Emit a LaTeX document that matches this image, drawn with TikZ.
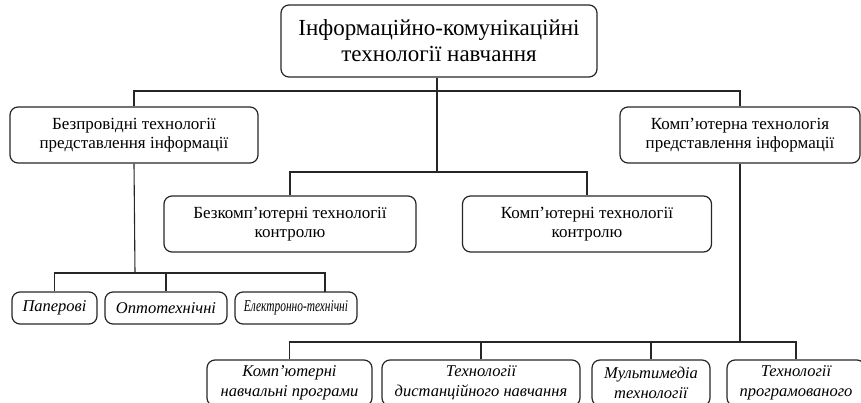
\documentclass[tikz,border=0pt]{standalone}
\usepackage{fontspec}
\usepackage{graphicx}
\setmainfont{Liberation Serif}
\begin{document}
\begin{tikzpicture}[x=1pt,y=-1pt,
  box/.style={draw=black!85, line width=1.2pt, rounded corners=8pt, align=center, inner sep=0pt, text=black},
  big/.style={box, font=\fontsize{23}{26}\selectfont},
  mid/.style={box, font=\fontsize{17}{18.5}\selectfont, minimum height=56pt},
  leaf/.style={box, rounded corners=8pt, font=\fontsize{16.5}{20}\itshape\selectfont},
  small/.style={leaf, minimum height=32pt},
  low/.style={leaf, minimum height=46pt},
  conn/.style={draw=black!85, line width=1.1pt}]
\clip (0,0) rectangle (861,403);
\useasboundingbox (0,0) rectangle (861,403);

\node[big, minimum width=316pt, minimum height=72pt] (top) at (439,41) {Інформаційно-комунікаційні\\технології навчання};

\node[mid, minimum width=248pt] (left) at (134,135) {Безпровідні технології\\представлення інформації};
\node[mid, minimum width=240pt] (right) at (740,135) {Комп'ютерна технологія\\представлення інформації};

\node[mid, minimum width=252pt] (ml) at (290,224) {Безкомп'ютерні технології\\контролю};
\node[mid, minimum width=249pt] (mr) at (587,224) {Комп'ютерні технології\\контролю};

\node[small, minimum width=85pt] (s1) at (54.5,308) {Паперові};
\node[small, minimum width=122pt] (s2) at (166,308) {Оптотехнічні};
\node[small, minimum width=122pt] (s3) at (296,308) {\scalebox{0.69}[1]{Електронно-технічні}};

\node[low, minimum width=165pt] (t1) at (289.5,383) {Комп'ютерні\\навчальні програми};
\node[low, minimum width=198pt] (t2) at (481,383) {Технології\\дистанційного навчання};
\node[low, minimum width=118pt] (t3) at (651,383) {Мультимедіа\\технології};
\node[low, minimum width=138pt] (t4) at (796,383) {Технології\\програмованого};

\coordinate (b1) at (437,91);
\coordinate (b2) at (437,172);
\coordinate (b3) at (135,273);
\coordinate (b4) at (740,342);
\coordinate (s3c) at (325,292);

\draw[conn] (top.south -| b1) -- (b1);
\draw[conn] (left.north) |- (b1) -| (right.north);
\draw[conn] (b1) -- (b2);
\draw[conn] (ml.north) |- (b2) -| (mr.north);
\draw[conn] (left.south) -- (b3);
\draw[conn] (s1.north) |- (b3) -| (s3c);
\draw[conn] (s2.north) -- (s2.north |- b3);
\draw[conn] (right.south) -- (b4);
\draw[conn] (t1.north) |- (b4) -| (t4.north);
\draw[conn] (t2.north) -- (t2.north |- b4);
\draw[conn] (t3.north) -- (t3.north |- b4);
\end{tikzpicture}
\end{document}
